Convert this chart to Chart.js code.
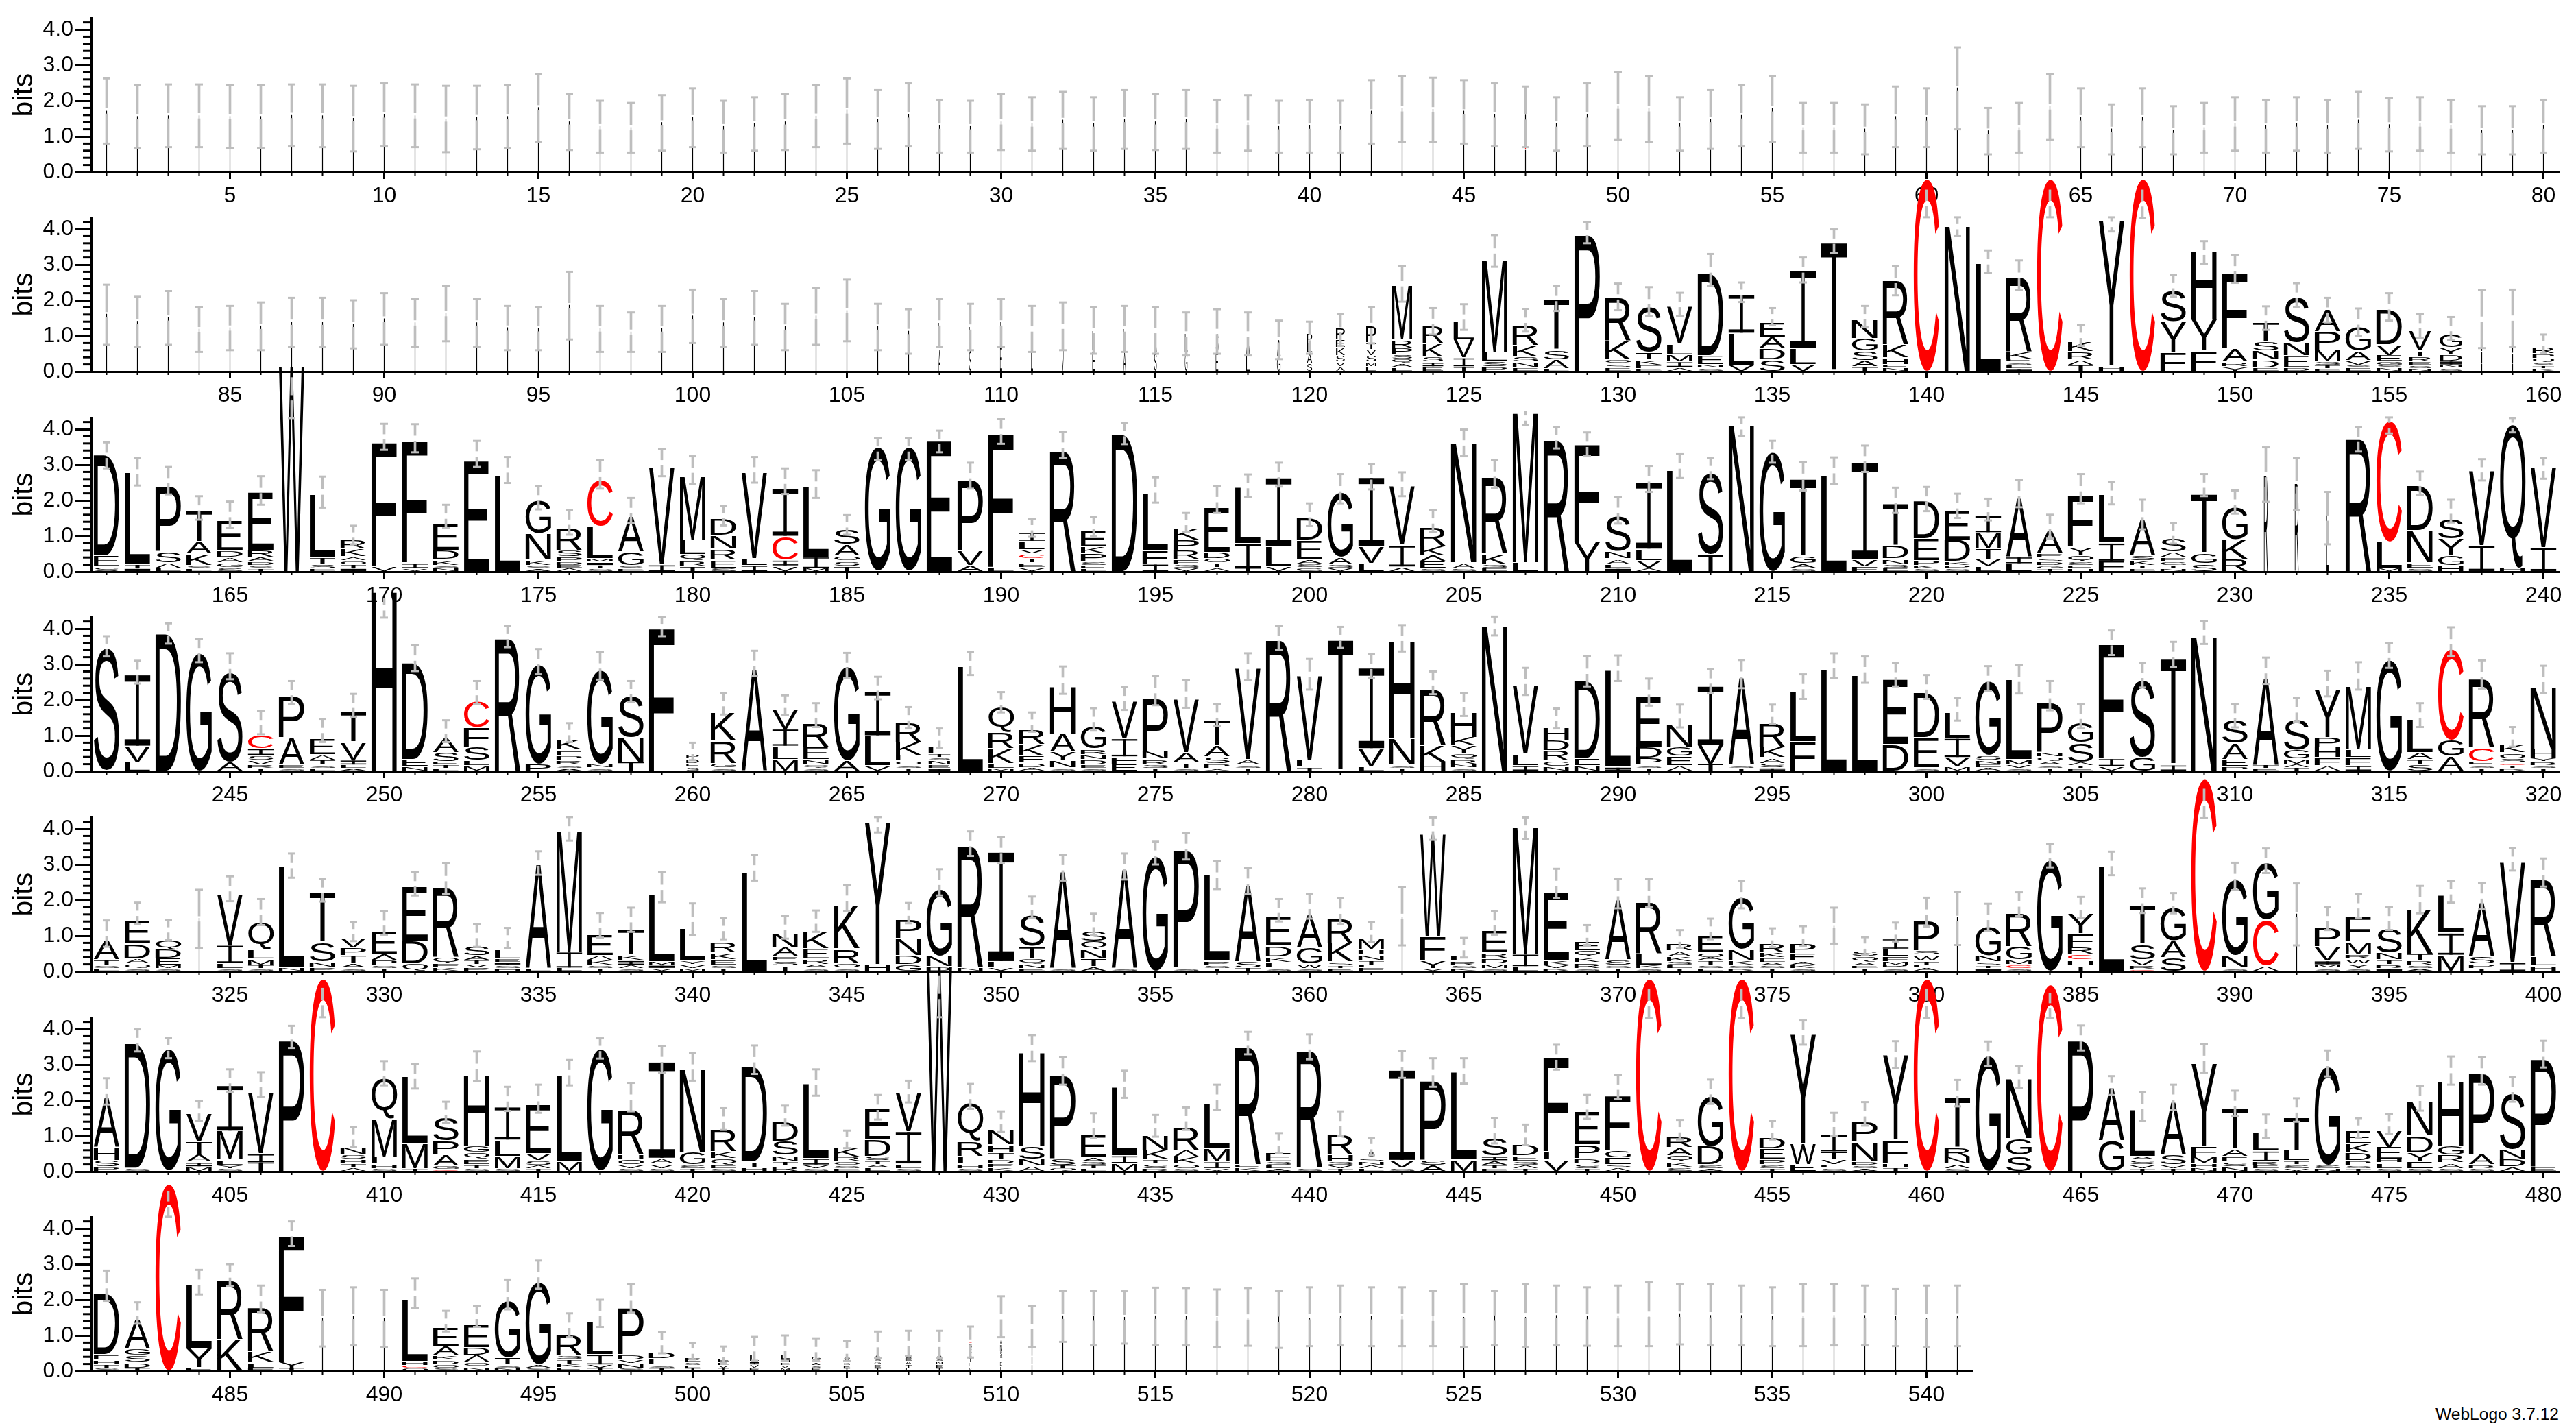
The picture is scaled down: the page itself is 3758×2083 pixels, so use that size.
<!DOCTYPE html>
<html>
<head>
<meta charset="utf-8">
<title>WebLogo</title>
<script src="https://cdn.jsdelivr.net/npm/chart.js@4/dist/chart.umd.min.js"></script>
<style>
html, body { margin: 0; background: #fff; width: 3758px; height: 2083px; overflow: hidden; }
canvas { position: absolute; left: 0; }
#credit { position: absolute; right: 25px; top: 2049px; font: 24.6px "Liberation Sans"; color: #000; }
</style>
</head>
<body>
<div id="credit">WebLogo 3.7.12</div>
<script>
// each stack reads top letter first: letter + height in bits
const stacksRow1 = [
  'L1.7','L1.55','L1.57','L1.57','L1.55','L1.55','L1.58','L1.57','L1.5','L1.6',
  'L1.57','L1.48','L1.52','L1.55','L1.8','L1.4','L1.27','L1.24','L1.38','L1.52',
  'L1.27','L1.35','L1.4','L1.56','L.75 C.08 A.85','L1.47','L1.6','L1.29','L1.27','L1.4',
  'L1.35','L1.45','L1.35','L1.47','L1.4','L1.47','L1.29','L1.38','L1.27','L1.29',
  'L1.27','L1.7','L1.77','L1.75','L1.7','L1.6','L.85 C.08 A.6','L1.35','L1.6','L1.85',
  'L1.77','L1.35','L1.47','L1.58','L1.77','L1.24','L1.24','L1.2','L1.55','L1.52',
  'L2.35','L1.15','L1.24','L1.83','L1.52','L1.2','L1.52','L1.17','L1.24','L1.35',
  'L1.29','L1.35','L1.29','L1.45','L1.32','L1.35','L1.29','L1.17','L1.17','L1.29'
];
const errLoRow1 = [.8,.68,.7,.7,.68,.68,.72,.7,.58,.72,.7,.56,.64,.68,.85,.62,.55,.55,.6,.7,.55,.6,.62,.7,.8,.65,.72,.55,.55,.62,.6,.65,.6,.65,.62,.65,.55,.6,.55,.55,.55,.8,.85,.85,.8,.72,.7,.6,.72,.9,.85,.6,.65,.72,.85,.55,.55,.5,.7,.7,1.2,.5,.55,.9,.7,.5,.7,.5,.55,.6,.55,.6,.55,.65,.58,.6,.55,.5,.5,.55];
const errHiRow1 = [2.63,2.44,2.46,2.46,2.44,2.44,2.46,2.46,2.42,2.49,2.46,2.42,2.42,2.44,2.76,2.2,2.0,1.94,2.16,2.35,2.0,2.1,2.2,2.44,2.63,2.3,2.49,2.03,2.0,2.2,2.1,2.25,2.1,2.3,2.2,2.3,2.03,2.16,2.0,2.03,2.0,2.58,2.7,2.65,2.58,2.49,2.4,2.1,2.49,2.8,2.7,2.1,2.3,2.44,2.7,1.94,1.94,1.9,2.4,2.35,3.5,1.8,1.94,2.76,2.35,1.9,2.35,1.85,1.94,2.1,2.03,2.1,2.03,2.25,2.07,2.1,2.03,1.85,1.85,2.03];

const stacksRow2 = [
  'L1.6','L1.4','L1.5','L1.18','L1.22','L1.27','L1.38','L1.38','L1.32','L1.47',
  'L1.36','L1.62','L1.36','L1.22','L1.2','L1.85','L1.2','L1.1','L1.2','L1.55',
  'L1.36','L1.5','L1.25','L1.55','L1.7','L1.25','L1.12','L.7 A.6','L.6 S.6','L.7 E.65',
  'A.6 L.6','L.6 V.6','L.55 E.55','L.6 A.55','A.5 S.5','L.5 G.5','S.5 E.5','A.45 L.45','A.45 G.4','P.25 L.25 A.25 S.2',
  'P.3 E.2 K.2 S.15 V.1 A.1','P.45 T.15 V.15 S.15 M.1 L.1','M1.5 R.2 P.15 S.1 Q.1 A.08 L.08','R.46 K.35 S.12 I.1 E.1','L.5 V.48 I.22 T.1','M2.56 L.22 S.12 P.1','R.55 K.29 S.12 N.12 E.08','T1.4 S.24 A.21 L.05','P3.8','R1.2 K.5 Q.1 S.08 E.06',
  'S1.26 T.18 K.13 F.06 E.05','V1.0 L.28 M.17 I.13 A.08','D2.3 E.22 N.08 S.06','I1.05 L.87 V.14','E.38 A.29 D.29 S.3','I2.15 L.42 V.16','T3.58','N.5 G.33 S.23 A.15 T.1','R1.8 K.33 H.15 E.08 N.06','C5.37',
  'N4.05','L3.0','R2.1 K.16 E.06 S.06 L.06 I.05','C5.37','K.25 R.2 A.13 T.14','Y4.05 H.13','C5.37','S.86 Y.83 F.5','H1.86 Y.85 F.55','F2.06 A.35 R.1 Y.1',
  'T.5 S.24 N.22 D.2 E.06','S1.26 N.34 E.32 D.06','A.6 P.48 M.29 S.08 T.06 E.05','G.65 A.22 V.1 S.06 E.06','D.95 V.26 E.14 G.07 S.06 N.06','V.53 T.12 R.13 E.07 S.06 N.05','G.35 Y.17 D.15 I.08 N.06 S.06','N.4 K.3 I.2','N.4 L.25 I.2','R.15 P.1 Q.08 S.06 T.05 K.05'
];
const errLoRow2 = [.75,.7,.75,.55,.6,.6,.7,.7,.65,.75,.7,.85,.7,.6,.6,.9,.55,.55,.55,.8,.7,.75,.6,.75,.85,.6,.5,.7,.6,.7,.55,.6,.5,.55,.5,.45,.5,.45,.35,.5,.72,.79,1.96,1.04,1.17,2.94,1.12,1.7,3.6,1.72,1.55,1.55,2.4,1.95,1.3,2.5,3.33,1.24,2.14,4.33,3.8,2.76,2.29,4.33,.72,3.93,4.31,2.1,3.03,2.49,1.17,1.81,1.38,1.01,1.43,.95,.88,.66,.7,.53];
const errHiRow2 = [2.44,2.1,2.26,1.8,1.84,1.94,2.07,2.07,2.0,2.2,2.03,2.4,2.03,1.84,1.8,2.8,1.84,1.66,1.84,2.3,2.03,2.26,1.9,2.35,2.58,1.9,1.75,2.03,1.9,2.03,1.84,1.94,1.8,1.84,1.8,1.66,1.75,1.66,1.43,1.4,1.62,1.8,2.97,1.78,1.89,3.83,1.76,2.4,4.2,2.47,2.37,2.21,3.3,2.5,1.78,3.2,3.99,1.84,2.97,5.1,4.33,3.4,3.12,5.1,1.31,4.33,5.1,2.72,3.66,3.28,1.83,2.48,2.07,1.77,2.2,1.62,1.53,2.28,2.3,1.04];

const stacksRow3 = [
  'D2.8 E.29 S.1','L2.55 T.08 I.06','P1.8 S.29 A.13 L.06','T.85 A.32 K.29 S.06 L.05','E.83 D.14 A.13 G.1 S.08','E1.6 R.16 A.1 D.08 S.06 T.05','W5.75','L1.76 T.15 S.1 E.05','R.22 K.19 A.08 O.08 T.08 I.06','F3.44 V.12',
  'F3.37 I.13 V.05','E.74 D.22 K.13 S.06 N.06','E3.07','L2.65','G.92 N.72 K.12 S.06 A.05','R.6 S.15 P.12 D.06 E.06 A.06','C1.26 L.87 M.08 I.06 T.06 S.05','A.96 G.35 S.06 E.05','V2.7 I.16','M1.74 L.38 Q.14 R.12 T.13',
  'D.45 N.35 R.28 E.2 S.07','V2.39 L.16 I.15','I1.3 C.64 I.13 V.13','L1.95 I.29 M.06','S.42 A.29 O.11 S.11 T.13','G3.45','G3.45','E3.64','P1.95 V.38 A.15','F3.7 L.09',
  'I.22 L.2 V.1 C.09 T.1 E.1 V.08','R3.4','E.41 K.17 P.19 S.08 E.06 L.05','D3.83','L1.57 F.35 I.18','K.3 P.27 R.21 F.13 S.07 V.06','E1.24 D.14 O.1 T.1 A.08','L1.54 I.67 T.06','I1.9 L.51 V.13','D.58 E.5 A.1 S.08 G.08',
  'G1.8 A.16 S.08 V.06','I1.9 V.45 L.2','V1.63 I.58 A.1','R.5 K.24 A.14 E.16 S.06','N3.33 A.13 S.05','R2.15 K.27 S.08 E.06','M4.17 L.22','R3.7','F2.72 Y.8','S.98 N.18 A.13 L.08 I.06',
  'I1.85 L.29 V.19 A.06','L2.82','S2.29 T.45','N4.08','G3.32','T2.15 G.17 A.1 S.06','L2.65','I2.69 V.16 F.11','T1.14 D.35 N.13 S.08 E.06','D1.03 E.58 P.11 K.06 S.05',
  'E.81 D.58 K.08 P.06 S.05','I.45 M.42 T.26 V.16 L.13','A1.63 I.16 L.19','A.62 E.1 S.08 D.07 G.06 T.05','F1.41 Y.2 Q.16 S.07 E.06 H.05','L1.33 I.48 F.26','A.96 S.12 K.11 T.06 E.05','S.35 A.13 E.1 G.07 T.06 N.05','T1.63 G.26 S.19','G.88 K.51 R.32',
  'R2.7','R2.47','L1.57','R3.74','C3.37 L.7 M.06','D1.23 N.88 E.13 S.06','S.53 Y.43 G.26 H.14','V2.08 I.7','Q3.99 H.06','V2.21 I.64'
];
const errLoRow3 = [2.9,2.42,2.17,1.46,1.24,1.88,4.31,1.8,.77,3.42,3.35,1.24,2.94,2.49,1.75,1.04,2.33,1.37,2.68,2.46,1.3,2.5,2.18,2.07,1.04,3.14,3.14,3.35,2.33,3.59,.98,3.19,1.01,3.58,1.94,1.11,1.65,2.1,2.39,1.28,1.92,2.31,2.12,1.12,3.24,2.34,4.12,3.46,3.24,1.35,2.24,2.63,2.6,3.8,3.06,2.28,2.46,2.8,1.65,1.7,1.51,1.44,1.81,.93,1.92,1.89,1.19,.79,2.12,1.63,1.96,1.73,.77,3.37,3.88,2.15,1.38,2.56,3.91,2.61];
const errHiRow3 = [3.63,3.19,2.94,2.12,1.97,2.68,5.45,2.67,1.29,4.15,4.14,1.88,3.67,3.22,2.4,1.74,3.13,2.07,3.44,3.24,1.85,3.22,2.9,2.85,1.59,3.75,3.75,3.96,3.06,4.28,1.49,3.92,1.54,4.17,2.65,1.65,2.4,2.73,3.06,1.92,2.74,3.01,2.79,1.73,3.99,3.14,4.5,4.06,3.91,2.1,2.97,3.3,3.19,4.33,3.67,3.08,3.21,3.54,2.36,2.38,2.19,2.05,2.58,1.6,2.74,2.52,2.02,1.37,2.74,2.28,3.49,3.2,2.24,4.06,4.33,2.81,2.02,3.16,4.31,3.19];

const stacksRow4 = [
  'S3.45','I1.97 V.42 L.22','D3.83','G3.28','S2.51 A.22','C.35 I.16 S.1 V.1 R.07 T.05','P1.12 A.74 E.06 S.05','E.42 A.13 T.11 S.06 L.05','T.83 V.47 I.11 L.06 A.05','H5.0',
  'D2.69 E.16 N.1','A.38 S.22 E.07 T.06 L.05','C.7 F.51 S.35 L.11 M.13','R3.74','G2.76 P.16','K.27 E.13 P.1 R.1 S.06 A.05','G2.6 N.08 S.06','S1.15 N.67 T.22','F3.97','P.1 D.1 E.08 S.08',
  'K.76 R.6 G.1 S.06','A2.82','V.51 I.45 L.35 M.29','R.64 E.32 N.1 Q.07 S.06','G2.6 A.26','I1.22 L.8 V.13','R.51 K.33 E.14 O.08 S.06 T.05','L.18 T.06 S.06 N.1 E.06 I.05','L2.9','Q.69 R.42 K.38 L.11 M.05',
  'R.4 K.29 E.16 D.1 A.07','H1.31 A.48 Y.22 N.16 S.06','G.6 R.13 N.1 D.13 E.06 S.05','V1.03 I.48 F.18 E.16','P1.46 N.19 R.13 S.07 T.05','V1.47 A.24 T.13 S.05','T.67 A.29 S.16 P.1 X.05','V2.53 A.13 S.06 T.05','R3.7','V2.34 L.16 T.08',
  'T3.65','I2.23 V.47 L.1','H2.7 N.7 S.06 T.05','R1.55 K.45 H.22','H.66 K.21 Y.19 Q.13 R.1 N.08 S.06','N4.05','V1.89 L.29 I.13','H.32 D.26 R.26 G.13 N.1','D2.16 E.16 N.13','L2.68 I.08',
  'E1.38 D.29 P.16 S.06 T.05','N.62 G.22 E.22 A.13','I1.62 V.51 T.16','A2.42 S.06 T.05','R.64 K.26 A.13 S.1 I.06','L1.38 F.8','L2.84','L2.66','E1.79 D.72','D1.22 E.83 S.06',
  'L.69 I.51 V.22 M.1','G2.04 S.1 N.08 E.07 A.06','L2.22 M.11 V.07 S.05','P1.36 N.1 Q.1 A.07 S.06 T.05','G.53 S.51 A.06 T.05 E.05','F3.19 I.19 V.1','S2.15 G.37','T2.94 I.14','N3.73','S.64 A.42 E.16 P.1',
  'A2.4 T.06 E.05','S.85 G.22 M.11 A.08 T.06','Y1.31 P.24 H.26 F.19 A.13','M1.76 L.19 F.19 I.13','G3.1','L.9 A.16 T.1 S.16','C2.53 G.42 A.38','R1.92 C.35 E.07 S.06 T.05','K.19 O.13 S.1 C.03 T.05 R.05','N1.7 H.22 Y.08 R.07 S.05 T.05'
];
const errLoRow4 = [3.22,2.46,3.58,3.06,2.58,1.04,1.88,.82,1.53,4.31,2.81,.82,1.88,3.48,2.72,.82,2.57,1.94,3.79,.31,1.59,2.68,1.57,1.24,2.62,2.02,1.2,.66,2.7,1.65,1.11,2.17,1.14,1.72,1.85,1.78,1.27,2.55,3.4,2.29,3.46,2.61,3.36,2.16,1.55,3.81,2.14,1.2,2.38,2.53,1.84,1.23,2.19,2.33,1.33,2.03,2.61,2.48,2.38,2.03,1.42,2.26,2.18,1.71,1.2,3.26,2.35,2.93,3.57,1.23,2.45,1.39,2.1,2.29,2.9,1.24,3.23,2.32,.69,2.19];
const errHiRow4 = [3.79,3.1,4.15,3.71,3.31,1.69,2.53,1.47,2.17,4.86,3.54,1.43,2.53,4.07,3.43,1.35,3.34,2.53,4.33,.8,2.2,3.38,2.13,1.91,3.32,2.65,1.8,1.2,3.35,2.22,1.65,2.94,1.77,2.36,2.67,2.55,1.88,3.31,4.07,3.15,4.05,3.28,4.1,2.8,2.19,4.34,2.9,1.76,3.23,3.25,2.6,1.87,2.87,3.12,1.87,2.72,3.31,3.22,3.03,2.7,2.06,2.95,2.98,2.53,1.88,3.95,3.03,3.63,4.21,1.88,3.19,2.05,2.82,3.06,3.6,1.91,4.04,3.11,1.24,2.96];

const stacksRow5 = [
  'A.51 T.13 S.06 L.05','E.61 D.4 A.11 Q.1 S.05','Q.24 D.21 E.16 M.07 S.05','L1.48','V1.41 I.48 L.11 S.05','Q.75 L.22 M.13 T.07 S.05','L2.8 N.06','T1.38 S.5 N.13 P.08','V.24 P.19 T.19 A.1 S.06','E.61 A.14 P.11 S.06 T.05',
  'E1.49 D.61 Q.18','R1.94 Q.16 F.1 K.06','S.22 A.09 T.09 V.07 P.06','L.22 E.06 I.06 S.05 H.05','A2.88 L.05','M3.35 I.42 L.06','E.56 A.11 K.11 S.06 T.05','T.67 K.13 I.1 A.06 S.05','L1.88 M.06 I.06 V.05','L.87 Y.08 V.08 M.05',
  'R.26 K.15 E.13 S.06 T.05','L2.74','N.38 A.21 E.1 S.1 T.13','K.45 E.27 R.11 A.08 S.06','K1.17 R.38 O.1 S.06','Y3.97 H.16','P.48 N.45 D.22 G.16','G1.85 N.26 D.1','R3.42 N.06','I3.04 L.15 V.06',
  'S.87 T.29 Q.13 N.1 E.05','A2.69 S.05','S.26 Q.21 N.22 T.19 A.1','A2.74 S.05','G3.19','P3.24 S.06','L2.38 P.08 S.06 T.05','A2.12 S.14 T.06','E.82 D.27 K.13 L.13 S.06','A.91 G.42 W.1 S.05',
  'R.68 K.48 S.07 T.05 E.05','M.27 H.11 N.13 T.1 L.06 F.06','L1.5','W2.87 F.64 Y.19 V.05','L.13 R.1 S.05 K.05','E.6 R.11 D.13 M.1 S.05','M3.53 I.32 L.1','E1.9 K.1 V.06 R.05','E.21 Q.15 K.13 R.13 S.05','A1.64 S.12 G.06 T.05',
  'R1.43 L.29 K.06 S.05','R.17 A.13 K.11 S.07 L.06 T.05','E.42 O.11 A.06 T.1 S.06 L.05','G1.41 N.28 K.1 S.06 R.05','R.21 K.11 E.1 A.06 S.05 T.05','P.24 E.19 A.08 K.06 S.05','L1.26','S.13 Q.13 A.07 E.05 T.05','I.26 L.16 F.13 M.06 R.06 S.06','P.8 S.1 W.13 T.08 L.06 A.06',
  'L1.5','G.78 N.15 S.07 T.05 I.05','R.93 G.35 M.1 C.08 S.05','G3.09','Y.53 F.35 R.16 C.13 H.13 T.13','L2.92','T1.07 S.4 V.15 R.06 C.03','G.91 A.45 S.35','C5.37','G2.1 N.32 S.06',
  'G1.58 C1.25 A.13','L1.6','P.48 V.37 I.08 M.06 S.06','F.67 M.32 R.1 W.1 Y.1 S.05','S.67 N.16 T.1 R.08 I.05','K1.22 T.15 R.1 S.06 A.05','L1.04 I.59 M.42','A1.47 S.18 P.1 T.05','V2.79 I.21','R2.17 L.21 H.13'
];
const errLoRow5 = [.69,1.33,.88,.66,1.97,1.3,2.63,1.96,.85,1.03,2.13,2.18,.69,.66,2.71,3.67,.95,1.11,1.94,1.01,.9,2.55,.92,1.11,1.69,3.9,1.35,2.13,3.24,3.03,1.49,2.55,1.01,2.58,3.0,3.14,2.31,2.17,1.4,1.48,1.32,.82,.73,3.69,.39,1.03,3.72,2.06,.74,1.77,1.8,.65,.9,1.77,.68,.71,.78,.46,.84,1.26,.74,1.13,1.56,2.92,1.51,2.7,1.64,1.63,4.3,2.28,2.76,.73,1.16,1.51,1.16,1.63,1.93,1.74,2.83,2.38];
const errHiRow5 = [1.43,1.93,1.45,2.29,2.67,2.03,3.31,2.6,1.38,1.69,2.79,3.03,1.33,1.22,3.37,4.33,1.64,1.79,2.78,1.91,1.51,3.26,1.56,1.71,2.42,4.33,1.92,2.87,3.93,3.76,2.1,3.27,1.62,3.31,3.64,3.88,3.1,2.9,2.03,2.17,2.06,1.38,2.36,4.32,.94,1.7,4.32,2.88,1.3,2.59,2.59,1.16,1.48,2.54,1.21,1.27,1.79,.96,1.37,2.07,2.24,1.9,2.22,3.58,2.09,3.36,2.33,2.2,5.12,3.05,3.45,2.47,1.8,2.17,1.8,2.4,2.54,2.49,3.47,3.17];

const stacksRow6 = [
  'A1.35 H.35 S.14 P.1','D3.48 S.06','G3.4','V.75 T.31 A.19 I.1 M.1','I1.25 M.76 L.13 Y.07 S.05','V1.71 I.22 T.21','P3.64','C5.38','N.18 S.1 H.1 T.1 A.06','Q1.11 M1.03 L.17 H.1 S.05',
  'L1.84 M.67 T.05','S.64 P.35 A.29 G.07 C.03','H1.94 G.15 Q.16 E.13 T.08 S.05','I.9 L.42 M.32 S.05','E1.35 V.16 S.1 A.06 T.05','L2.39 M.24','G3.4','R1.26 H.09 O.13 V.08 S.05','I2.67 A.13 V.1 S.05','N2.28 G.32 S.07 T.05',
  'R.6 K.16 Q.16 E.07 S.05','D2.67 T.12 H.08','D.51 S.37 N.13 T.1 R.13','L2.08 I.16 V.07 S.05','K.22 R.1 O.08 S.06 E.05','E.85 D.43 S.1 T.08 A.07 L.06','V1.06 I.88 L.1 S.05','W5.75','Q1.04 R.4 L.19 H.1 S.05','N.4 H.19 T.14 D.1 E.1 K.06',
  'H2.62 S.32 N.16 A.12','P2.28 S.16 T.06 Q.05','E.58 A.1 S.07 T.06 L.05','L1.9 I.19 M.19','N.4 K.22 T.1 S.1 R.05','R.63 A.16 K.16 O.1 S.05','L1.23 M.35 I.16 V.05','R3.31 E.07 K.06','E.22 S.07 L.06 A.05','R3.31 S.06',
  'R.54 H.16 S.07 V.06 T.05','T.15 S.08 N.07 A.06 L.05','I2.5 V.19 S.06','P2.18 S.13 A.14','L2.44 M.29','S.49 I.1 A.1 T.06 E.05','D.29 E.13 S.08 A.07 T.05','F2.6 L.2 V.29','E.91 P.34 D.13 S.1 T.05','F1.49 G.17 E.16 S.07 A.06',
  'C5.38','R.26 A.19 Q.15 K.13 S.08','G1.39 D.48 S.08 A.05','C5.38','D.29 E.26 P.13 S.08 T.05','Y3.04 W.56 E.16','I.45 T.18 V.12 L.07 S.06','P.54 N.52 D.07 S.06 A.05','Y2.37 F.64 H.08 T.08','C5.38',
  'T1.4 R.22 N.16 A.1 S.05','G3.22','N1.65 G.44 S.42','C5.22','P3.64','A1.44 G.83','L1.28 A.08 S.1 V.08 T.05','A1.46 S.26 V.07 T.05','Y2.31 F.26 M.14 H.1 N.07','T1.1 A.18 E.13 S.1 N.1',
  'L.48 I.26 R.08 E.06 S.05','T.91 L.26 T.08 S.08 V.05','G2.74 S.07 N.05','E.33 K.21 D.19 P.1 S.06 T.05','V.43 E.31 H.07 L.13 S.05','N.93 D.45 Y.21 E.16 S.05','H1.79 G.22 R.19 A.13 S.05','P2.23 A.26 R.08 S.05','S1.56 N.24 D.19 A.1','P2.98 E.1'
];
const errLoRow6 = [1.88,3.37,3.18,1.42,2.23,2.1,3.47,4.33,.69,2.42,2.33,1.37,2.54,1.7,1.65,2.42,3.17,1.69,2.76,2.55,1.17,2.74,1.29,2.13,.66,1.46,1.94,4.33,1.76,1.11,3.1,2.44,.95,2.07,.98,1.17,1.74,3.29,.52,3.15,1.0,.46,2.63,2.38,2.47,.79,.74,2.86,1.48,2.03,4.31,.9,1.9,4.31,.9,3.56,1.0,1.29,2.9,4.31,1.83,2.96,2.35,4.3,3.4,2.15,1.43,1.74,2.78,1.56,.94,1.4,2.67,.94,1.06,1.71,2.44,2.44,1.96,2.92];
const errHiRow6 = [2.62,3.99,3.75,1.99,2.87,2.79,4.09,5.15,1.25,3.1,3.02,1.96,3.37,2.38,2.44,3.13,3.74,2.49,3.53,3.32,1.78,3.54,1.85,2.87,1.15,2.15,2.55,5.5,2.46,1.69,3.83,3.21,1.64,2.83,1.59,1.8,2.44,3.92,1.08,3.85,1.69,.94,3.39,3.18,3.18,1.51,1.32,3.56,2.15,2.71,5.13,1.45,2.58,5.13,1.42,4.24,1.65,1.95,3.66,5.13,2.57,3.65,2.97,5.0,4.1,2.68,2.23,2.44,3.58,2.27,1.6,2.06,3.4,1.5,1.62,2.4,3.23,3.21,2.65,3.67];

const stacksRow7 = [
  'D1.69 E.13 H.1 T.06 S.05','A.8 G.16 S.16 D.13 T.05','C5.22','L1.76 Y.51 F.06','R1.65 K.85','R1.23 K.26 L.13 F.05','F3.51 Y.15 T.04','L1.48','L1.53','L1.47',
  'L1.71 H.08 C.05 O.05','E.51 A.21 K.1 D.1 O.07 S.05','E.61 D.19 A.17 Q.1 N.08','G1.56 T.16 S.06 N.05','G2.28 A.06 S.05','R.58 S.07 T.1 K.07 E.06','L.88 I.26 V.06 T.05','P1.29 D.12 V.07 N.1 S.05','D.15 E.14 S.06 T.05','E.1 S.06 L.05 T.05',
  'E.06 L.05 V.05 T.05','L.15 I.06 V.06 F.05','L.13 I.06 E.05 V.05 M.05','G.1 C.02 A.05 S.05 E.05','S.06 A.06 G.05 E.05 T.05','A.1 S.06 G.06 E.06 T.05','S.1 E.06 A.06 T.06 L.05','A.1 S.06 N.06 E.06 T.05','C.03 S.1 E.1 A.1 T.1 L.1 V.08','C.35 A.15 N.14 S.14 T.1 E.1 L.1',
  'R.4 S.25 A.2 K.15','L1.54','L.6 C.02 A.85','L1.5','L1.54','L1.53','L1.5','L1.48','L1.52','L1.46',
  'L1.52','L1.52','L1.53','L1.53','L1.5','L1.55','L1.5','L1.55','L1.53','L1.52',
  'L1.53','L1.6','L1.55','L1.55','L1.53','L1.52','L1.55','L1.55','L1.53','L1.48',
  'L1.53'
];
const errLoRow7 = [1.97,1.33,4.33,2.15,2.39,1.65,3.51,.69,.72,.67,1.77,1.11,1.24,1.73,2.31,.95,1.24,1.64,.5,.33,.24,.29,.28,.29,.28,.37,.42,.37,.38,.95,.67,.82,.72,.77,.74,.72,.67,.71,.65,.7,.72,.7,.7,.7,.68,.72,.68,.72,.71,.7,.7,.75,.72,.72,.7,.7,.72,.72,.7,.68,.7];
const errHiRow7 = [2.82,1.93,5.04,2.84,3.0,2.4,4.2,2.28,2.35,2.28,2.6,1.69,1.83,2.57,3.1,1.62,2.0,2.45,1.1,.79,.69,.96,1.0,.92,.84,1.11,1.13,1.13,1.25,2.1,1.83,2.26,2.26,2.24,2.34,2.33,2.29,2.33,2.26,2.35,2.4,2.35,2.35,2.26,2.44,2.26,2.44,2.4,2.35,2.4,2.49,2.44,2.44,2.4,2.35,2.44,2.44,2.4,2.3,2.4,2.4];

// [first position, last position, share of the full letter width]
const narrowRanges = [[1,100,.03],[101,107,.05],[108,112,.08],[113,117,.1],[118,119,.14],[120,120,.2],[121,121,.35],[122,122,.4],[123,125,.8],[156,157,.88],[158,159,.02],[160,160,.85],
  [231,231,.15],[232,232,.15],[233,233,.08],[260,260,.5],[268,268,.85],[324,324,.03],[363,363,.03],[377,377,.06],[381,381,.03],[392,392,.03],
  [488,490,.02],[500,500,.6],[501,501,.45],[502,504,.35],[505,508,.25],[509,509,.12],[510,510,.08],[511,511,.05],[512,541,.02]];

const rowStarts = [1,81,161,241,321,401,481];
const rowStacks = [stacksRow1,stacksRow2,stacksRow3,stacksRow4,stacksRow5,stacksRow6,stacksRow7];
const rowErrLo = [errLoRow1,errLoRow2,errLoRow3,errLoRow4,errLoRow5,errLoRow6,errLoRow7];
const rowErrHi = [errHiRow1,errHiRow2,errHiRow3,errHiRow4,errHiRow5,errHiRow6,errHiRow7];
const baselines = [250.5,542,833.7,1125,1417,1708.7,2000];
const yMinorTicks = [.2,.4,.6,.8,1.2,1.4,1.6,1.8,2.2,2.4,2.6,2.8,3.2,3.4,3.6,3.8,4.2];

const GRAY = '#bebebe';
const LETTER_GAP = .03;   // bits between stacked letters
const ERR_GAP = .08;      // bits left open in the middle of an error bar
const FONT = '"Liberation Sans"';

function widthOf(pos) {
  const r = narrowRanges.find(n => pos >= n[0] && pos <= n[1]);
  return r ? r[2] : 1;
}

const metricsCache = {};
function metrics(ctx, ch) {
  if (!metricsCache[ch]) {
    ctx.font = `100px ${FONT}`;
    const m = ctx.measureText(ch);
    metricsCache[ch] = { l: m.actualBoundingBoxLeft, r: m.actualBoundingBoxRight, a: m.actualBoundingBoxAscent, d: m.actualBoundingBoxDescent };
  }
  return metricsCache[ch];
}

function drawGlyph(ctx, ch, x0, x1, yTop, yBot) {
  ctx.fillStyle = ch === 'C' ? '#ff0000' : '#000000';
  const w = x1 - x0, h = yBot - yTop;
  if (w < 2.5) {
    // too thin to show a glyph, it is a plain line in the logo too
    ctx.fillRect((x0 + x1) / 2 - .6, yTop, 1.2, h);
    return;
  }
  if (ch === 'I') {
    // the logo's I has slab serifs and a hairline stem, no installed sans has that shape
    const bar = Math.max(h * .09, 1.5);
    ctx.fillRect(x0, yTop, w, bar);
    ctx.fillRect(x0, yBot - bar, w, bar);
    ctx.fillRect(x0 + w * .44, yTop, w * .12, h);
    return;
  }
  const m = metrics(ctx, ch);
  ctx.save();
  ctx.translate(x0, yBot);
  ctx.scale(w / (m.l + m.r), h / (m.a + m.d));
  ctx.font = `100px ${FONT}`;
  ctx.textBaseline = 'alphabetic';
  ctx.textAlign = 'left';
  ctx.fillText(ch, m.l, -m.d);
  ctx.restore();
}

const logoPlugin = {
  id: 'logo',
  beforeDatasetsDraw(chart, args, opts) {
    const ctx = chart.ctx;
    const x = chart.scales.x, y = chart.scales.y;
    ctx.save();
    ctx.fillStyle = '#000';
    // minor ticks
    yMinorTicks.forEach(v => {
      const py = y.getPixelForValue(v);
      ctx.fillRect(x.left - 12, py - 1.5, 12, 3);
    });
    opts.stacks.forEach((s, i) => {
      const px = x.getPixelForValue(opts.start + i);
      ctx.fillRect(px - 1, y.bottom, 2, 5);
    });
    // letters, smallest at the bottom
    opts.stacks.forEach((s, i) => {
      const pos = opts.start + i;
      const half = .415 * widthOf(pos);
      const x0 = x.getPixelForValue(pos - half), x1 = x.getPixelForValue(pos + half);
      const parts = [...s.matchAll(/([A-Z])([\d.]+)/g)].reverse();
      let cum = .02;
      parts.forEach(p => {
        const h = parseFloat(p[2]);
        drawGlyph(ctx, p[1], x0, x1, y.getPixelForValue(cum + h), y.getPixelForValue(cum));
        cum += h + LETTER_GAP;
      });
    });
    ctx.restore();
  }
};
Chart.register(logoPlugin);

rowStarts.forEach((start, r) => {
  const stacks = rowStacks[r], lo = rowErrLo[r], hi = rowErrHi[r];
  const end = start + stacks.length - 1;
  const tickVals = [];
  for (let p = start; p <= end; p++) if (p % 5 === 0) tickVals.push(p);

  const canvas = document.createElement('canvas');
  canvas.width = 3758;
  canvas.height = 380;
  canvas.style.top = (baselines[r] - 310) + 'px';
  document.body.appendChild(canvas);

  const upper = stacks.map((s, i) => ({ x: start + i, y: [(lo[i] + hi[i]) / 2 + ERR_GAP, hi[i]] }));
  const lower = stacks.map((s, i) => ({ x: start + i, y: [lo[i], (lo[i] + hi[i]) / 2 - ERR_GAP] }));
  const caps = stacks.flatMap((s, i) => [{ x: start + i, y: hi[i] }, { x: start + i, y: lo[i] }]);

  new Chart(canvas, {
    type: 'bar',
    data: {
      datasets: [
        { data: upper, backgroundColor: GRAY, barThickness: 3, grouped: false, clip: false },
        { data: lower, backgroundColor: GRAY, barThickness: 3, grouped: false, clip: false },
        { type: 'scatter', data: caps, showLine: false, pointStyle: 'line', pointRadius: 5.5, pointBorderColor: GRAY, pointBorderWidth: 3, clip: false }
      ]
    },
    options: {
      responsive: false,
      animation: false,
      layout: { autoPadding: false, padding: { left: 0, top: 85.4, right: 3758 - (133 + 45 * (end - start + 1)), bottom: 0 } },
      plugins: {
        legend: { display: false },
        tooltip: { enabled: false },
        logo: { stacks: stacks, start: start }
      },
      scales: {
        x: {
          type: 'linear',
          offset: false,
          min: start - .5,
          max: end + .5,
          afterBuildTicks: s => { s.ticks = tickVals.map(v => ({ value: v })); },
          afterFit: s => { s.height = 70; },
          border: { display: true, width: 3, color: '#000' },
          grid: { drawOnChartArea: false, tickLength: 10, tickWidth: 3, tickColor: '#000', offset: false },
          ticks: { autoSkip: false, maxRotation: 0, padding: 6, color: '#000', font: { family: FONT, size: 32 }, callback: v => String(v) }
        },
        y: {
          min: 0,
          max: 4.32,
          afterFit: s => { s.width = 133; },
          border: { display: true, width: 3, color: '#000' },
          grid: { drawOnChartArea: false, tickLength: 24, tickWidth: 3, tickColor: '#000' },
          ticks: { stepSize: 1, includeBounds: false, padding: 2, color: '#000', font: { family: FONT, size: 32 }, callback: v => v.toFixed(1) },
          title: { display: true, text: 'bits', color: '#000', font: { family: FONT, size: 41 }, padding: 11 }
        }
      }
    }
  });
});
</script>
</body>
</html>
